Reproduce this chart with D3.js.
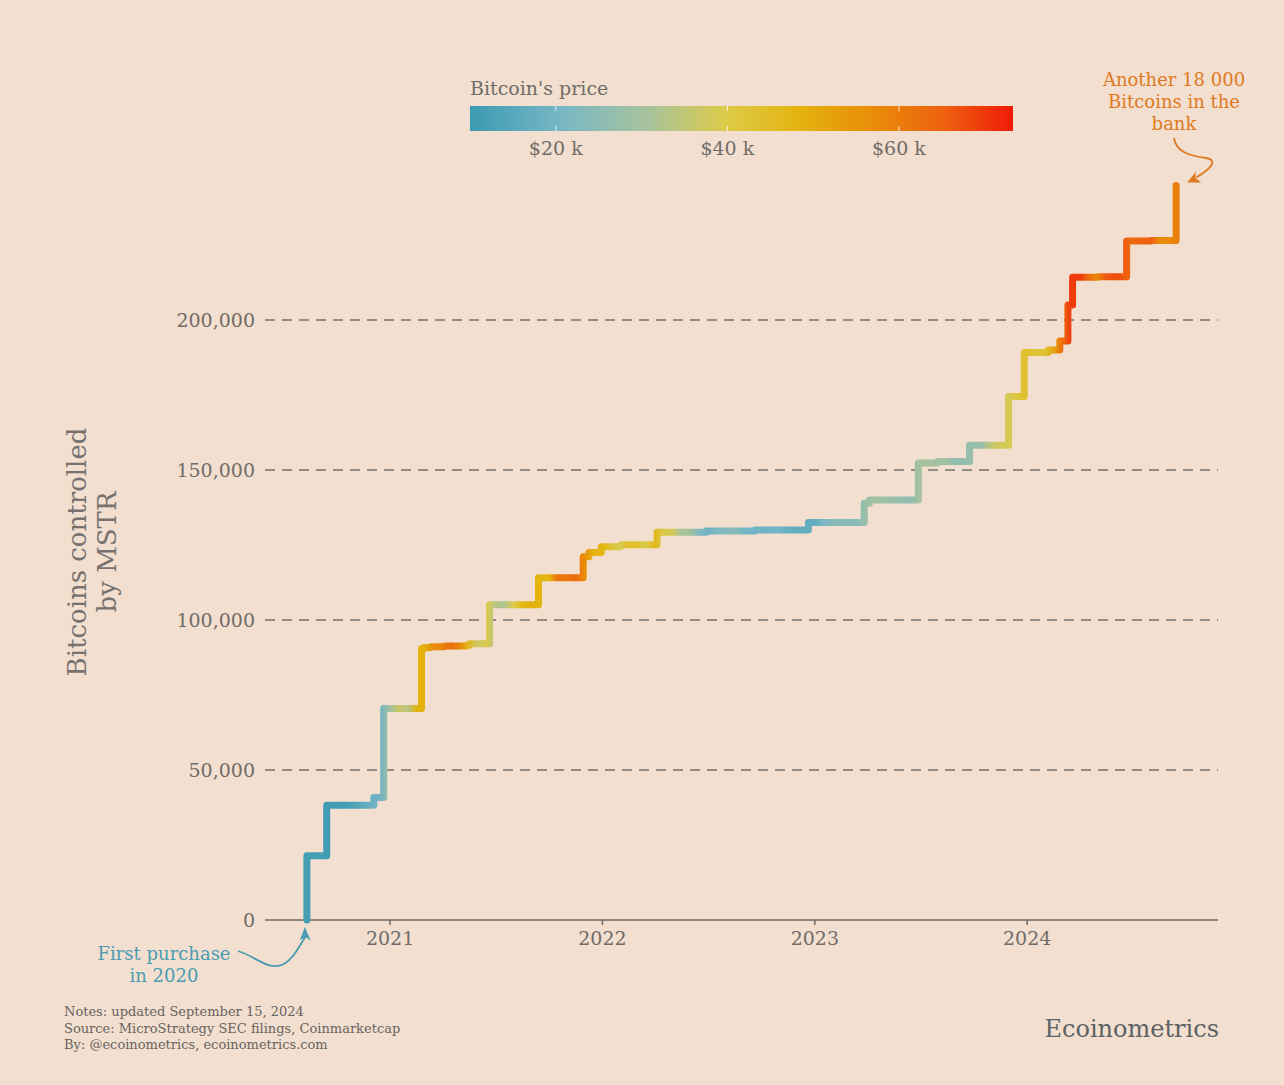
<!DOCTYPE html>
<html><head><meta charset="utf-8">
<script src="https://cdn.jsdelivr.net/npm/d3@7/dist/d3.min.js"></script>
<style>
html,body{margin:0;padding:0;background:#f2dfcf;}
svg{display:block;}
text{font-family:"DejaVu Serif",Georgia,serif;}
</style></head>
<body>
<svg id="chart" width="1284" height="1085"></svg>
<script>
// ---- Data ----
// Cumulative bitcoins held by MSTR (step changes)
const holdingDates = ["2020-08-11","2020-08-11","2020-09-14","2020-12-04","2020-12-21","2021-02-24","2021-03-01","2021-03-12","2021-04-05","2021-05-13","2021-05-18","2021-06-21","2021-09-13","2021-11-29","2021-12-09","2021-12-30","2022-02-01","2022-04-05","2022-06-28","2022-09-20","2022-12-21","2023-03-27","2023-04-05","2023-06-28","2023-07-31","2023-09-24","2023-11-30","2023-12-27","2024-02-06","2024-02-26","2024-03-11","2024-03-19","2024-05-01","2024-06-20","2024-08-01","2024-09-13"];
const holdings = [0,21454,38250,40824,70470,90531,90859,91064,91326,91579,92079,105085,114042,121044,122478,124391,125051,129218,129699,130000,132500,138955,140000,152333,152800,158245,174530,189150,190000,193000,205000,214246,214400,226331,226500,244800];

// Bitcoin price (USD), semi-monthly
const priceDates = ["2020-08-01","2020-08-15","2020-09-01","2020-09-15","2020-10-01","2020-10-15","2020-11-01","2020-11-15","2020-12-01","2020-12-15",
"2021-01-01","2021-01-15","2021-02-01","2021-02-15","2021-03-01","2021-03-15","2021-04-01","2021-04-15","2021-05-01","2021-05-15","2021-06-01","2021-06-15","2021-07-01","2021-07-15","2021-08-01","2021-08-15","2021-09-01","2021-09-15","2021-10-01","2021-10-15","2021-11-01","2021-11-15","2021-12-01","2021-12-15",
"2022-01-01","2022-01-15","2022-02-01","2022-02-15","2022-03-01","2022-03-15","2022-04-01","2022-04-15","2022-05-01","2022-05-15","2022-06-01","2022-06-15","2022-07-01","2022-07-15","2022-08-01","2022-08-15","2022-09-01","2022-09-15","2022-10-01","2022-10-15","2022-11-01","2022-11-15","2022-12-01","2022-12-15",
"2023-01-01","2023-01-15","2023-02-01","2023-02-15","2023-03-01","2023-03-15","2023-04-01","2023-04-15","2023-05-01","2023-05-15","2023-06-01","2023-06-15","2023-07-01","2023-07-15","2023-08-01","2023-08-15","2023-09-01","2023-09-15","2023-10-01","2023-10-15","2023-11-01","2023-11-15","2023-12-01","2023-12-15",
"2024-01-01","2024-01-15","2024-02-01","2024-02-15","2024-03-01","2024-03-15","2024-04-01","2024-04-15","2024-05-01","2024-05-15","2024-06-01","2024-06-15","2024-07-01","2024-07-15","2024-08-01","2024-08-15","2024-09-01","2024-09-15"];
const prices = [11800,11800,11900,10800,10600,11500,13700,16000,19000,19400,
29400,36800,33500,48000,49600,56000,59000,63000,57800,46700,36600,40100,33500,31800,39900,47000,48800,48100,48100,61500,61300,63600,57000,48900,
47700,43000,38700,44500,44400,39300,46300,40500,38500,31300,29800,22500,19300,20800,23300,24100,20100,19700,19300,19100,20500,16900,17100,17400,
16600,20900,23700,24300,23600,24400,28500,30300,28100,27200,26800,25600,30600,30300,29700,29200,25900,26600,27000,27100,35400,37900,38700,42000,
44200,42500,43100,51900,62400,69400,69700,63400,58300,66200,67700,66000,62700,64900,65400,57500,57300,60000];

const yTicks = [0,50000,100000,150000,200000];
const xTickYears = ["2021","2022","2023","2024"];
const priceTicks = [20000,40000,60000];
const priceTickLabels = ["$20 k","$40 k","$60 k"];

// ---- Setup ----
const parse = d3.timeParse("%Y-%m-%d");
const svg = d3.select("#chart");
const W = 1284, H = 1085;
svg.append("rect").attr("width",W).attr("height",H).attr("fill","#f2dfcf");

const x = d3.scaleTime().domain([parse("2020-05-31"), parse("2024-11-24")]).range([265,1218]);
const y = d3.scaleLinear().domain([0,250000]).range([920,170]);

const colorStops = [[0,"#3B9AB2"],[0.17,"#78B7C5"],[0.33,"#a8c39c"],[0.47,"#dccb4a"],[0.6,"#e4b510"],[0.75,"#e98a08"],[0.87,"#ee6210"],[1,"#f01c08"]];
const pMin = 10000, pMax = 73300;
const color = d3.scaleLinear()
  .domain(colorStops.map(s => pMin + s[0]*(pMax-pMin)))
  .range(colorStops.map(s => s[1]))
  .interpolate(d3.interpolateRgb);

const defs = svg.append("defs");

// ---- Grid lines ----
const grid = svg.append("g");
grid.selectAll("line").data(yTicks.filter(d=>d>0)).join("line")
  .attr("x1",265).attr("x2",1218)
  .attr("y1",d=>y(d)).attr("y2",d=>y(d))
  .attr("stroke","#77726e").attr("stroke-width",1.4)
  .attr("stroke-dasharray","10,7");

// y tick labels
svg.append("g").selectAll("text").data(yTicks).join("text")
  .attr("x",255).attr("y",d=>y(d)).attr("dy","0.35em")
  .attr("text-anchor","end").attr("font-size",19).attr("fill","#716c68")
  .text(d=>d3.format(",")(d));

// x axis line
svg.append("line").attr("x1",265).attr("x2",1218).attr("y1",y(0)).attr("y2",y(0))
  .attr("stroke","#6e6b68").attr("stroke-width",1.5);
const xt = svg.append("g");
xTickYears.forEach(yr=>{
  const xx = x(parse(yr+"-01-01"));
  xt.append("line").attr("x1",xx).attr("x2",xx).attr("y1",y(0)).attr("y2",y(0)+5)
    .attr("stroke","#6e6b68").attr("stroke-width",1.5);
  xt.append("text").attr("x",xx).attr("y",y(0)+25).attr("text-anchor","middle")
    .attr("font-size",19).attr("fill","#716c68").text(yr);
});

// ---- Line gradient (by price along time) ----
const pd0 = x(parse(priceDates[0])), pd1 = x(parse(priceDates[priceDates.length-1]));
const lg = defs.append("linearGradient").attr("id","lineGrad")
  .attr("gradientUnits","userSpaceOnUse")
  .attr("x1",pd0).attr("x2",pd1).attr("y1",0).attr("y2",0);
lg.selectAll("stop").data(prices).join("stop")
  .attr("offset",(d,i)=>(x(parse(priceDates[i]))-pd0)/(pd1-pd0))
  .attr("stop-color",d=>color(d));

const pts = holdingDates.map((d,i)=>({date:parse(d), v:holdings[i]}));
const line = d3.line().x(d=>x(d.date)).y(d=>y(d.v)).curve(d3.curveStepAfter);
svg.append("path").attr("d",line(pts))
  .attr("fill","none").attr("stroke","url(#lineGrad)")
  .attr("stroke-width",7).attr("stroke-linejoin","round").attr("stroke-linecap","round");

// ---- Legend (color bar) ----
const lx = d3.scaleLinear().domain([pMin,pMax]).range([470,1013]);
const cg = defs.append("linearGradient").attr("id","legGrad");
cg.selectAll("stop").data(colorStops).join("stop")
  .attr("offset",d=>d[0]).attr("stop-color",d=>d[1]);
svg.append("text").attr("x",470).attr("y",95).attr("font-size",19).attr("fill","#716c68").text("Bitcoin's price");
svg.append("rect").attr("x",470).attr("y",106).attr("width",543).attr("height",25).attr("fill","url(#legGrad)");
const lt = svg.append("g");
priceTicks.forEach((p,i)=>{
  lt.append("line").attr("x1",lx(p)).attr("x2",lx(p)).attr("y1",106).attr("y2",111).attr("stroke","#fff").attr("stroke-opacity",0.8).attr("stroke-width",1);
  lt.append("line").attr("x1",lx(p)).attr("x2",lx(p)).attr("y1",126).attr("y2",131).attr("stroke","#fff").attr("stroke-opacity",0.8).attr("stroke-width",1);
  lt.append("text").attr("x",lx(p)).attr("y",155).attr("text-anchor","middle")
    .attr("font-size",19).attr("fill","#716c68").text(priceTickLabels[i]);
});

// ---- Y axis title ----
const yt = svg.append("text").attr("transform","translate(90,552) rotate(-90)")
  .attr("text-anchor","middle").attr("font-size",26).attr("fill","#77726f");
yt.append("tspan").attr("x",0).attr("dy","-0.15em").text("Bitcoins controlled");
yt.append("tspan").attr("x",0).attr("dy","1.15em").text("by MSTR");

// ---- Annotations ----
const orange = "#e07a22", teal = "#4a9cb2";
const ann1 = svg.append("text").attr("text-anchor","middle").attr("font-size",18).attr("fill",orange);
["Another 18 000","Bitcoins in the","bank"].forEach((t,i)=>{
  ann1.append("tspan").attr("x",1174).attr("y",86+i*22).text(t);
});
const tipX = x(parse(holdingDates[holdingDates.length-1])), tipY = y(holdings[holdings.length-1]);
svg.append("path").attr("d",`M1174,138 C1176,152 1190,156 1206,158 C1218,160 1212,168 ${tipX+20},${tipY-8}`)
  .attr("fill","none").attr("stroke",orange).attr("stroke-width",1.8);
svg.append("path").attr("d",`M${tipX+11},${tipY-3} L${tipX+20},${tipY-14} L${tipX+19},${tipY-8} L${tipX+25},${tipY-3} Z`).attr("fill",orange);

const ann2 = svg.append("text").attr("text-anchor","middle").attr("font-size",18).attr("fill",teal);
["First purchase","in 2020"].forEach((t,i)=>{
  ann2.append("tspan").attr("x",164).attr("y",960+i*22).text(t);
});
const fx = x(parse(holdingDates[0]));
svg.append("path").attr("d",`M238,951 C256,956 268,972 284,964 C294,958 298,948 ${fx-1},${y(0)+16}`)
  .attr("fill","none").attr("stroke",teal).attr("stroke-width",1.8);
svg.append("path").attr("d",`M${fx-2},${y(0)+7} L${fx+4},${y(0)+21} L${fx-1},${y(0)+17} L${fx-7},${y(0)+20} Z`).attr("fill",teal);

// ---- Footer ----
const notes = ["Notes: updated September 15, 2024","Source: MicroStrategy SEC filings, Coinmarketcap","By: @ecoinometrics, ecoinometrics.com"];
svg.append("g").selectAll("text").data(notes).join("text")
  .attr("x",64).attr("y",(d,i)=>1016+i*16.5).attr("font-size",13).attr("fill","#67635f").text(d=>d);
svg.append("text").attr("x",1219).attr("y",1037).attr("text-anchor","end")
  .attr("font-size",24).attr("fill","#5c6263").text("Ecoinometrics");
</script>
</body></html>
